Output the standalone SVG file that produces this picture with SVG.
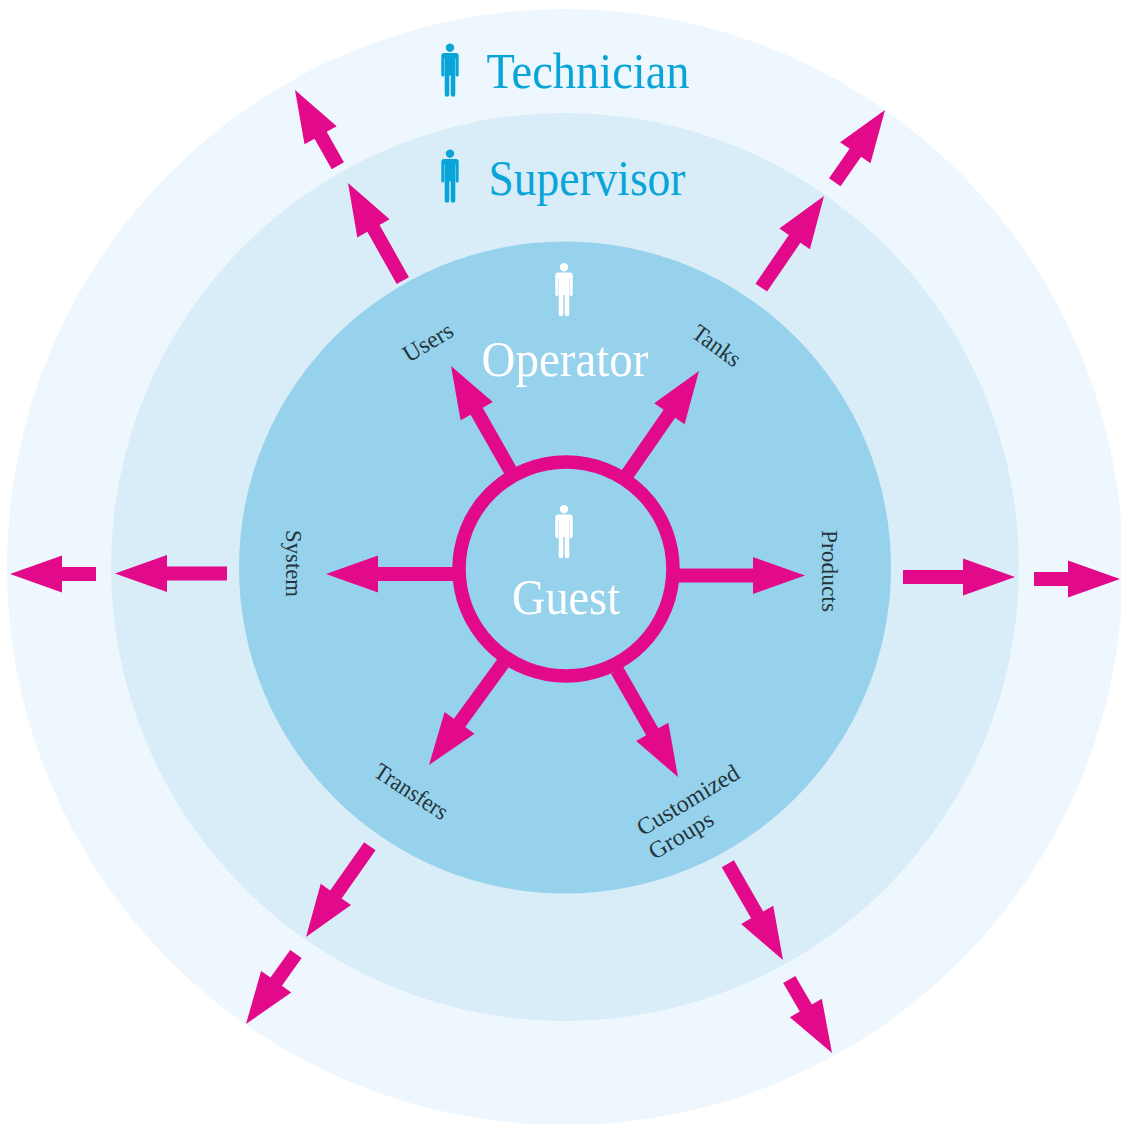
<svg xmlns="http://www.w3.org/2000/svg" xmlns:xlink="http://www.w3.org/1999/xlink" width="1121" height="1124" viewBox="0 0 1121 1124">
<style>
text{font-family:"Liberation Serif","DejaVu Serif",serif;text-anchor:middle}
.big{font-size:50px}
.cy{fill:#0aa5d8}
.wh{fill:#fff}
.sm{font-size:24px;fill:#24343b}
.ar{fill:#e2098a}
</style>
<defs>
<path id="person" d="M0,0a4.2,4.2 0 1 1 -0.01,0ZM-6,9.500H6Q8.700,9.500 8.700,12.500V31.500a1.500,1.500 0 0 1 -3,0V15H5.300V51a2,2 0 0 1 -4.600,0V32H-0.700V51a2,2 0 0 1 -4.600,0V15H-5.700V31.500a1.500,1.500 0 0 1 -3,0V12.500Q-8.700,9.500 -6,9.500Z"/>
</defs>
<g id="technician">
<circle cx="565" cy="567" r="558" fill="#eef7fe"/>
<use xlink:href="#person" href="#person" x="450" y="43.500" class="cy"/>
<text x="588" y="88" class="big cy" textLength="203" lengthAdjust="spacingAndGlyphs">Technician</text>
</g>
<g id="supervisor">
<circle cx="565" cy="567" r="454" fill="#d9edf9"/>
<use xlink:href="#person" href="#person" x="450" y="149.500" class="cy"/>
<text x="587" y="195" class="big cy" textLength="197" lengthAdjust="spacingAndGlyphs">Supervisor</text>
</g>
<g id="operator">
<circle cx="565" cy="567.500" r="326" fill="#97d2ec"/>
<use xlink:href="#person" href="#person" x="564" y="263" class="wh"/>
<text x="565" y="376" class="big wh" textLength="167" lengthAdjust="spacingAndGlyphs">Operator</text>
</g>
<g id="guest">
<circle cx="566" cy="569" r="107" fill="none" stroke="#e2098a" stroke-width="13.500"/>
<use xlink:href="#person" href="#person" x="564" y="505" class="wh"/>
<text x="566" y="614" class="big wh" textLength="108" lengthAdjust="spacingAndGlyphs">Guest</text>
</g>
<g id="labels">
<text class="sm" transform="translate(432,349) rotate(-31)" textLength="54" lengthAdjust="spacingAndGlyphs">Users</text>
<text class="sm" transform="translate(712,352) rotate(36)" textLength="54" lengthAdjust="spacingAndGlyphs">Tanks</text>
<text class="sm" transform="translate(822,571) rotate(90)" textLength="82" lengthAdjust="spacingAndGlyphs">Products</text>
<text class="sm" transform="translate(286,563.500) rotate(90)" textLength="67" lengthAdjust="spacingAndGlyphs">System</text>
<text class="sm" transform="translate(407,798) rotate(33)" textLength="83" lengthAdjust="spacingAndGlyphs">Transfers</text>
<text class="sm" transform="translate(692,807) rotate(-31)" textLength="115" lengthAdjust="spacingAndGlyphs">Customized</text>
<text class="sm" transform="translate(685,842) rotate(-31)" textLength="71" lengthAdjust="spacingAndGlyphs">Groups</text>
</g>
<g id="connectors" class="ar">
<polygon transform="translate(805,575.500)" points="-127,-7 -52,-7 -52,-18.500 0,0 -52,18.500 -52,7 -127,7"/>
<polygon transform="translate(326,574) rotate(180)" points="-128,-7 -52,-7 -52,-18.500 0,0 -52,18.500 -52,7 -128,7"/>
<polygon transform="translate(451,366) rotate(-119.600)" points="-120,-7 -52,-7 -52,-18.500 0,0 -52,18.500 -52,7 -120,7"/>
<polygon transform="translate(699,371) rotate(-55.300)" points="-126,-7 -52,-7 -52,-18.500 0,0 -52,18.500 -52,7 -126,7"/>
<polygon transform="translate(429,765) rotate(126)" points="-126,-7 -52,-7 -52,-18.500 0,0 -52,18.500 -52,7 -126,7"/>
<polygon transform="translate(678,777) rotate(60.300)" points="-123,-7 -52,-7 -52,-18.500 0,0 -52,18.500 -52,7 -123,7"/>
<polygon transform="translate(348,183) rotate(-119.300)" points="-112,-7 -52,-7 -52,-18.500 0,0 -52,18.500 -52,7 -112,7"/>
<polygon transform="translate(295,90) rotate(-119.500)" points="-87,-7 -52,-7 -52,-18.500 0,0 -52,18.500 -52,7 -87,7"/>
<polygon transform="translate(824,196) rotate(-55.600)" points="-111,-7 -52,-7 -52,-18.500 0,0 -52,18.500 -52,7 -111,7"/>
<polygon transform="translate(885,110) rotate(-55.200)" points="-88,-7 -52,-7 -52,-18.500 0,0 -52,18.500 -52,7 -88,7"/>
<polygon transform="translate(115,573.500) rotate(180)" points="-112,-7 -52,-7 -52,-18.500 0,0 -52,18.500 -52,7 -112,7"/>
<polygon transform="translate(10,574) rotate(180)" points="-86,-7 -52,-7 -52,-18.500 0,0 -52,18.500 -52,7 -86,7"/>
<polygon transform="translate(1015,577)" points="-112,-7 -52,-7 -52,-18.500 0,0 -52,18.500 -52,7 -112,7"/>
<polygon transform="translate(1120,579)" points="-86,-7 -52,-7 -52,-18.500 0,0 -52,18.500 -52,7 -86,7"/>
<polygon transform="translate(306,937) rotate(125.100)" points="-111,-7 -52,-7 -52,-18.500 0,0 -52,18.500 -52,7 -111,7"/>
<polygon transform="translate(246,1024) rotate(125.500)" points="-86,-7 -52,-7 -52,-18.500 0,0 -52,18.500 -52,7 -86,7"/>
<polygon transform="translate(783,960) rotate(60.200)" points="-111,-7 -52,-7 -52,-18.500 0,0 -52,18.500 -52,7 -111,7"/>
<polygon transform="translate(832,1053) rotate(59.800)" points="-85,-7 -52,-7 -52,-18.500 0,0 -52,18.500 -52,7 -85,7"/>
</g>
</svg>
